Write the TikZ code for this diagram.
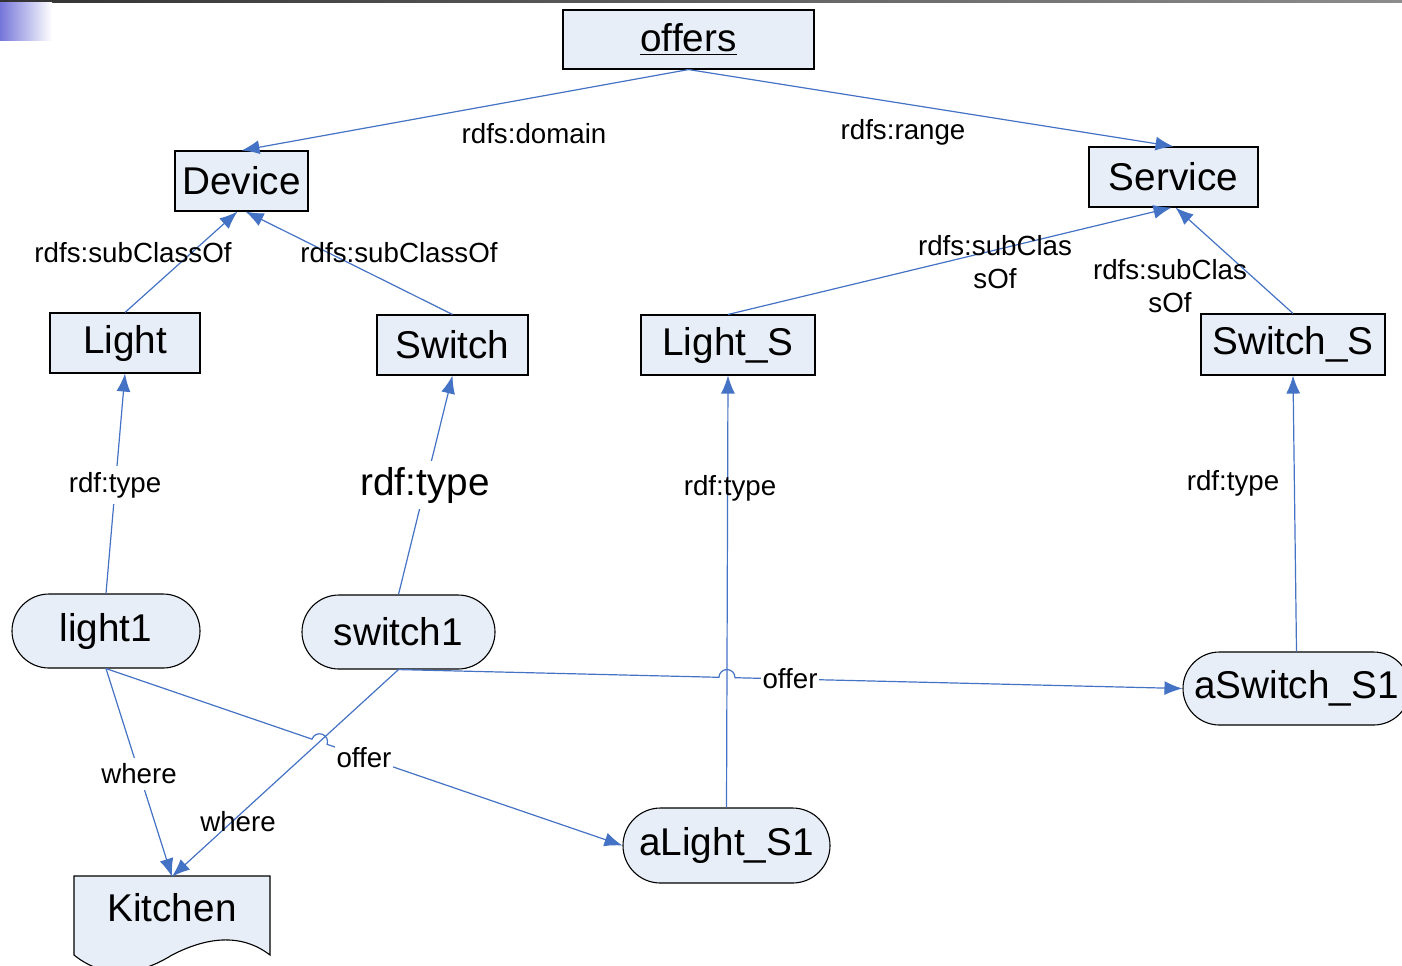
\documentclass[tikz,border=0pt]{standalone}
\usepackage{fontspec}
\setmainfont{Liberation Sans}
\usetikzlibrary{shapes.misc,arrows.meta,positioning,calc,intersections}

\definecolor{boxfill}{RGB}{232,238,247}
\definecolor{linkblue}{RGB}{68,114,196}
\definecolor{barlilac}{RGB}{118,118,218}

\newcommand{\bigtext}{\fontsize{19.35}{22}\selectfont}
\newcommand{\smalltext}{\fontsize{13.85}{16.5}\selectfont}

\begin{document}
\begin{tikzpicture}[x=0.5pt, y=-0.5pt,
        box/.style={rectangle, draw=black, line width=0.55pt, fill=boxfill, inner sep=0pt, font=\bigtext},
        pill/.style={rounded rectangle, draw=black, line width=0.55pt, fill=boxfill, inner sep=0pt, font=\bigtext},
        edge/.style={draw=linkblue, line width=0.6pt, -{Latex[length=9pt,width=7pt]}},
        lbl/.style={font=\smalltext, inner sep=1pt, align=center},
        lblw/.style={lbl, fill=white, inner xsep=1pt, inner ysep=3pt}]

        \useasboundingbox (0,0) rectangle (1402,965);
        \shade[left color=black!80, right color=black!45] (0,0) rectangle (1402,2);
        \shade[left color=barlilac, right color=white] (0,2) rectangle (52,40);

        % classes
        \node[box, minimum width=125.5pt, minimum height=29.5pt] (offers) at (688.5,39.5) {\underline{offers}};
        \node[box, minimum width=66.5pt, minimum height=30pt] (device) at (241.5,181) {Device};
        \node[box, minimum width=84.5pt, minimum height=30pt] (service) at (1173.5,177) {Service};
        \node[box, minimum width=75pt, minimum height=30pt] (light) at (125,343) {Light};
        \node[box, minimum width=75.5pt, minimum height=30pt] (switch) at (452.5,345) {Switch};
        \node[box, minimum width=87pt, minimum height=30pt] (lightS) at (728,345) {Light\_S};
        \node[box, minimum width=92pt, minimum height=30.5pt] (switchS) at (1293,344.5) {Switch\_S};

        % instances
        \node[pill, minimum width=94pt, minimum height=37pt] (light1) at (106,631) {light1};
        \node[pill, minimum width=96.5pt, minimum height=37pt] (switch1) at (398.5,632) {switch1};
        \node[pill, minimum width=113.5pt, minimum height=36.5pt] (aSwitchS1) at (1296.5,688.5) {aSwitch\_S1};
        \node[pill, minimum width=103.5pt, minimum height=37.5pt] (aLightS1) at (726.5,845.5) {aLight\_S1};

        % kitchen (document shape)
        \filldraw[fill=boxfill, draw=black, line width=0.55pt]
            (74,876) -- (270,876) -- (270,955) .. controls (240,932) and (205,938) .. (172,955)
            .. controls (140,975) and (105,980) .. (74,955) -- cycle;
        \node[inner sep=0pt, minimum width=98pt, minimum height=31pt, font=\bigtext] (kitchen) at (172,908) {Kitchen};

        % schema links
        \draw[edge] (offers.south) -- (device.north) node[lbl] at (534,134) {rdfs:domain};
        \draw[edge] (offers.south) -- (service.north) node[lbl] at (903,132) {rdfs:range};
        \draw[edge] (light.north) -- ([xshift=-2pt]device.south) node[lbl] at (133,253) {rdfs:subClassOf};
        \draw[edge] (switch.north) -- ([xshift=2pt]device.south) node[lbl] at (399,253) {rdfs:subClassOf};
        \draw[edge] (lightS.north) -- ([xshift=-1pt]service.south) node[lbl] at (995,262) {rdfs:subClas\\sOf};
        \draw[edge] (switchS.north) -- ([xshift=1pt]service.south) node[lbl] at (1170,286) {rdfs:subClas\\sOf};

        % types
        \draw[edge] (light1.north) -- (light.south) node[lblw] at (115,485) {rdf:type};
        \draw[edge] (switch1.north) -- (switch.south) node[lblw, font=\bigtext] at (425,485) {rdf:type};
        \draw[edge] (aLightS1.north) -- (lightS.south) node[lbl] at (730,488) {rdf:type};
        \draw[edge] (aSwitchS1.north) -- (switchS.south) node[lbl] at (1233,483) {rdf:type};

        % where
        \draw[edge] (light1.south) -- (kitchen.north) node[lblw] at (139,774) {where};
        \draw[edge] (switch1.south) -- (kitchen.north) node[lbl] at (238,822) {where};

        % offer links with line jumps
        \path[name path=offerA] (switch1.south) -- (aSwitchS1.west);
        \path[name path=typeA] (aLightS1.north) -- (lightS.south);
        \path[name intersections={of=offerA and typeA, by=hopA}];
        \path[name path=offerB] (light1.south) -- (aLightS1.west);
        \path[name path=whereB] (switch1.south) -- (kitchen.north);
        \path[name intersections={of=offerB and whereB, by=hopB}];

        \draw[edge] (switch1.south) -- ($(hopA)!4pt!(switch1.south)$)
            arc[start angle=178.58, end angle=-1.42, radius=4pt] -- (aSwitchS1.west)
            node[lblw] at (790,679) {offer};
        \draw[edge] (light1.south) -- ($(hopB)!4pt!(light1.south)$)
            arc[start angle=161.05, end angle=-18.95, radius=4pt] -- (aLightS1.west)
            node[lblw] at (364,758) {offer};
\end{tikzpicture}
\end{document}
